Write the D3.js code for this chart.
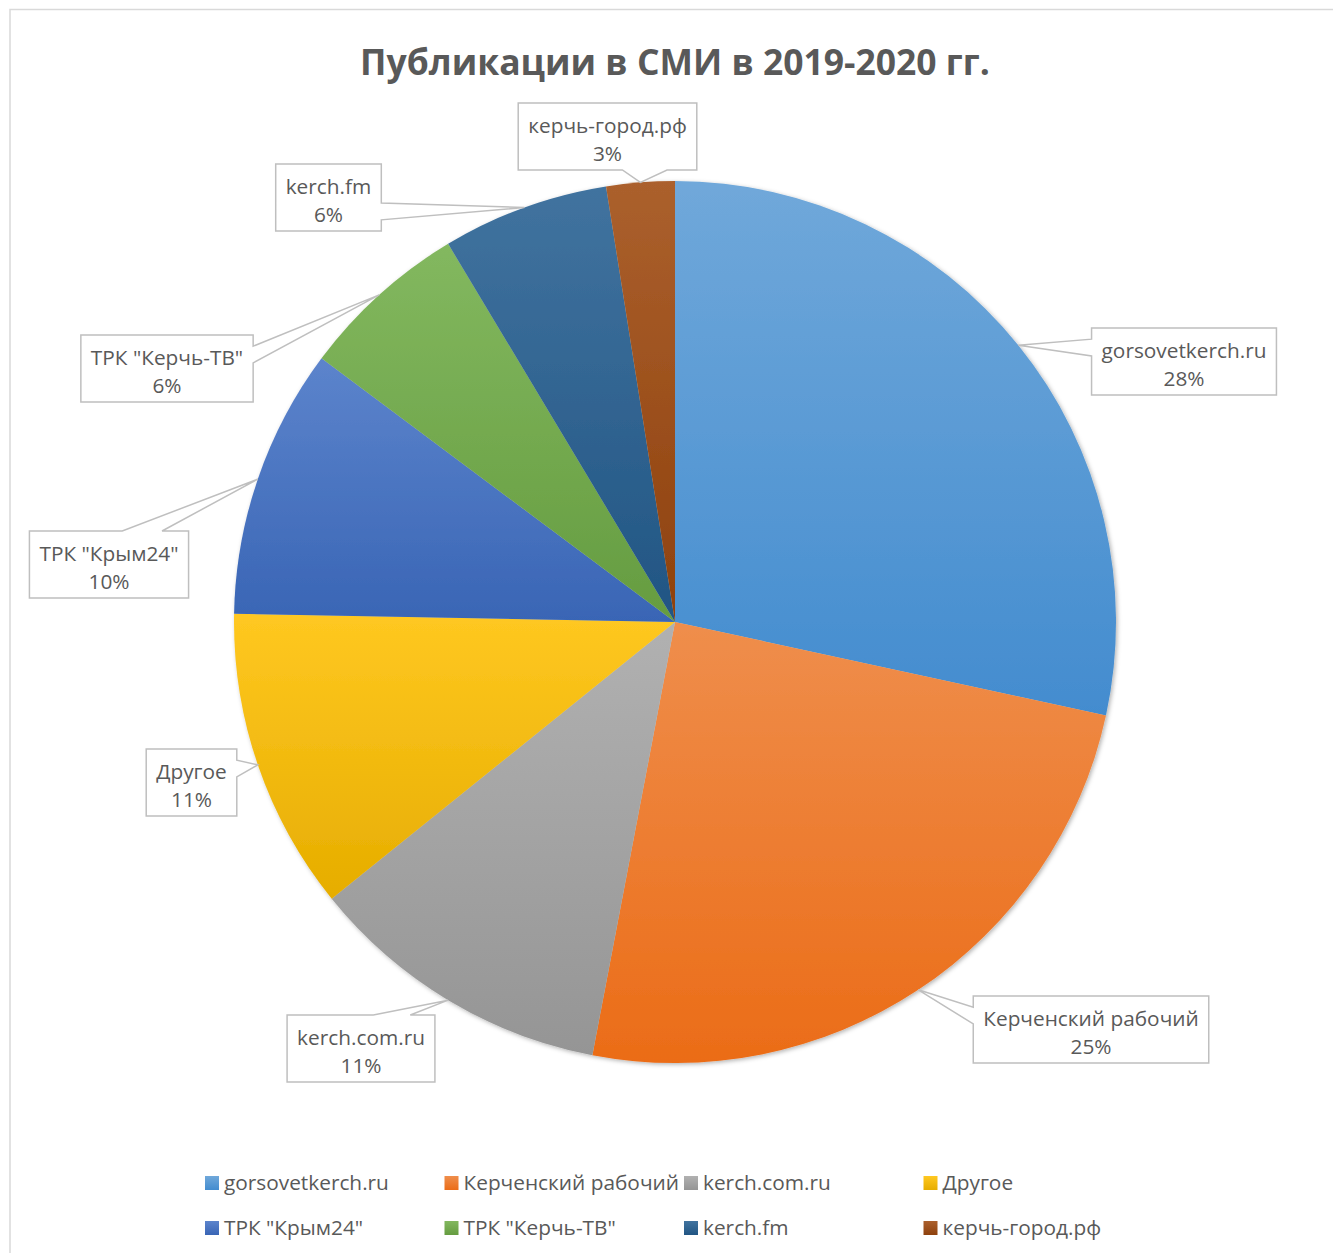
<!DOCTYPE html>
<html>
<head>
<meta charset="utf-8">
<script src="https://cdn.jsdelivr.net/npm/d3@7"></script>
<style>
  body { margin: 0; background: #fff; }
  svg text { font-family: "Open Sans", "Noto Sans", sans-serif; fill: #595959; }
</style>
</head>
<body>
<div id="chart"></div>
<script>
  // data (share of publications, %)
  const categories = [
    "gorsovetkerch.ru",
    "Керченский рабочий",
    "kerch.com.ru",
    "Другое",
    'ТРК "Крым24"',
    'ТРК "Керчь-ТВ"',
    "kerch.fm",
    "керчь-город.рф",
  ];
  const values = [28.4, 24.6, 11.2, 11.1, 9.9, 6.2, 6.1, 2.5];
  const colors = [
    "#5B9BD5", "#ED7D31", "#A5A5A5", "#FFC000",
    "#4472C4", "#70AD47", "#255E91", "#9E480E",
  ];
  const title = "Публикации в СМИ в 2019-2020 гг.";

  // where the callout boxes sit (centre x, top y)
  const labelBoxes = [
    [1184, 328], [1091, 996], [361, 1015], [191.5, 749],
    [109, 531], [167, 335], [328.5, 164], [607.5, 103],
  ];

  const W = 1333, H = 1253;
  const cx = 675, cy = 622, radius = 441;

  const svg = d3.select("#chart").append("svg")
    .attr("width", W).attr("height", H);

  const defs = svg.append("defs");

  // office-style fill: lighter tint at the top, deeper shade at the bottom
  colors.forEach((c, i) => {
    const bottom = d3.hsl(c);
    bottom.l = bottom.l * 0.9;
    const g = defs.append("linearGradient")
      .attr("id", "grad-" + i)
      .attr("x1", 0).attr("y1", 0).attr("x2", 0).attr("y2", 1);
    g.append("stop").attr("offset", "0%")
      .attr("stop-color", d3.interpolateRgb(c, "#fff")(0.13));
    g.append("stop").attr("offset", "100%")
      .attr("stop-color", bottom.formatHex());
  });

  const shadow = defs.append("filter").attr("id", "pie-shadow")
    .attr("x", "-5%").attr("y", "-5%").attr("width", "110%").attr("height", "110%");
  shadow.append("feDropShadow")
    .attr("dx", 1.5).attr("dy", 1.5).attr("stdDeviation", 2)
    .attr("flood-color", "#000").attr("flood-opacity", 0.3);

  // chart frame
  svg.append("rect")
    .attr("x", 10).attr("y", 9.5)
    .attr("width", W + 20).attr("height", H + 20)
    .attr("fill", "none").attr("stroke", "#D9D9D9").attr("stroke-width", 1.5);

  // title, scaled to the width it has in the picture
  const titleText = svg.append("text")
    .attr("x", cx).attr("y", 75)
    .attr("text-anchor", "middle")
    .style("font-weight", "bold")
    .style("font-size", "36px")
    .text(title);
  const tw = titleText.node().getComputedTextLength();
  titleText.style("font-size", (36 * 630 / tw).toFixed(2) + "px");

  // font size for labels and legend
  const probe = svg.append("text").style("font-size", "20px").text("gorsovetkerch.ru");
  const labelFont = 20 * 165 / probe.node().getComputedTextLength();
  probe.remove();

  const pie = d3.pie().sort(null).value((d) => d);
  const arcs = pie(values);
  const arc = d3.arc().innerRadius(0).outerRadius(radius);

  const pieG = svg.append("g")
    .attr("transform", `translate(${cx},${cy})`)
    .attr("filter", "url(#pie-shadow)");

  pieG.selectAll("path")
    .data(arcs)
    .enter()
    .append("path")
    .attr("d", arc)
    .attr("fill", (d, i) => `url(#grad-${i})`);

  // callouts (office wedgeRectCallout geometry)
  const total = d3.sum(values);
  const fmt = (v) => Math.round(Math.round((v / total) * 1000) / 10) + "%";

  function calloutPath(l, t, w, h, tx, ty) {
    const hc = l + w / 2, vc = t + h / 2;
    const dx = tx - hc, dy = ty - vc;
    const dq = (dx * h) / w;
    const r = l + w, b = t + h;
    const xa = l + (w * (dx > 0 ? 7 : 2)) / 12, xb = l + (w * (dx > 0 ? 10 : 5)) / 12;
    const ya = t + (h * (dy > 0 ? 7 : 2)) / 12, yb = t + (h * (dy > 0 ? 10 : 5)) / 12;
    const inside = tx >= l && tx <= r && ty >= t && ty <= b;
    if (inside) {
      return `M${l},${t}H${r}V${b}H${l}Z`;
    }
    if (Math.abs(dy) - Math.abs(dq) > 0) {
      if (dy < 0) {
        return `M${l},${t}H${xa}L${tx},${ty}L${xb},${t}H${r}V${b}H${l}Z`;
      }
      return `M${l},${t}H${r}V${b}H${xb}L${tx},${ty}L${xa},${b}H${l}Z`;
    }
    if (dx < 0) {
      return `M${l},${t}H${r}V${b}H${l}V${yb}L${tx},${ty}L${l},${ya}Z`;
    }
    return `M${l},${t}H${r}V${ya}L${tx},${ty}L${r},${yb}V${b}H${l}Z`;
  }

  const labelG = svg.append("g");
  arcs.forEach((d, i) => {
    const mid = (d.startAngle + d.endAngle) / 2;
    const tipX = cx + radius * Math.sin(mid);
    const tipY = cy - radius * Math.cos(mid);
    const [bx, by] = labelBoxes[i];

    const g = labelG.append("g");
    const path = g.append("path");
    const t1 = g.append("text")
      .attr("x", bx).attr("y", by + 30)
      .attr("text-anchor", "middle")
      .style("font-size", labelFont + "px")
      .text(categories[i]);
    g.append("text")
      .attr("x", bx).attr("y", by + 58)
      .attr("text-anchor", "middle")
      .style("font-size", labelFont + "px")
      .text(fmt(values[i]));

    const w = t1.node().getComputedTextLength() + 20;
    const h = 67;
    path.attr("d", calloutPath(bx - w / 2, by, w, h, tipX, tipY))
      .attr("fill", "#fff")
      .attr("stroke", "#BFBFBF")
      .attr("stroke-width", 1.5)
      .attr("stroke-linejoin", "miter");
  });

  // legend, two rows of four
  const legend = svg.append("g");
  categories.forEach((name, i) => {
    const col = i % 4, row = Math.floor(i / 4);
    const x = 205 + col * 239.5;
    const y = 1183 + row * 45;
    legend.append("rect")
      .attr("x", x).attr("y", y - 7)
      .attr("width", 14).attr("height", 14)
      .attr("fill", `url(#grad-${i})`);
    legend.append("text")
      .attr("x", x + 19).attr("y", y)
      .attr("dy", "0.35em")
      .style("font-size", labelFont + "px")
      .text(name);
  });
</script>
</body>
</html>
